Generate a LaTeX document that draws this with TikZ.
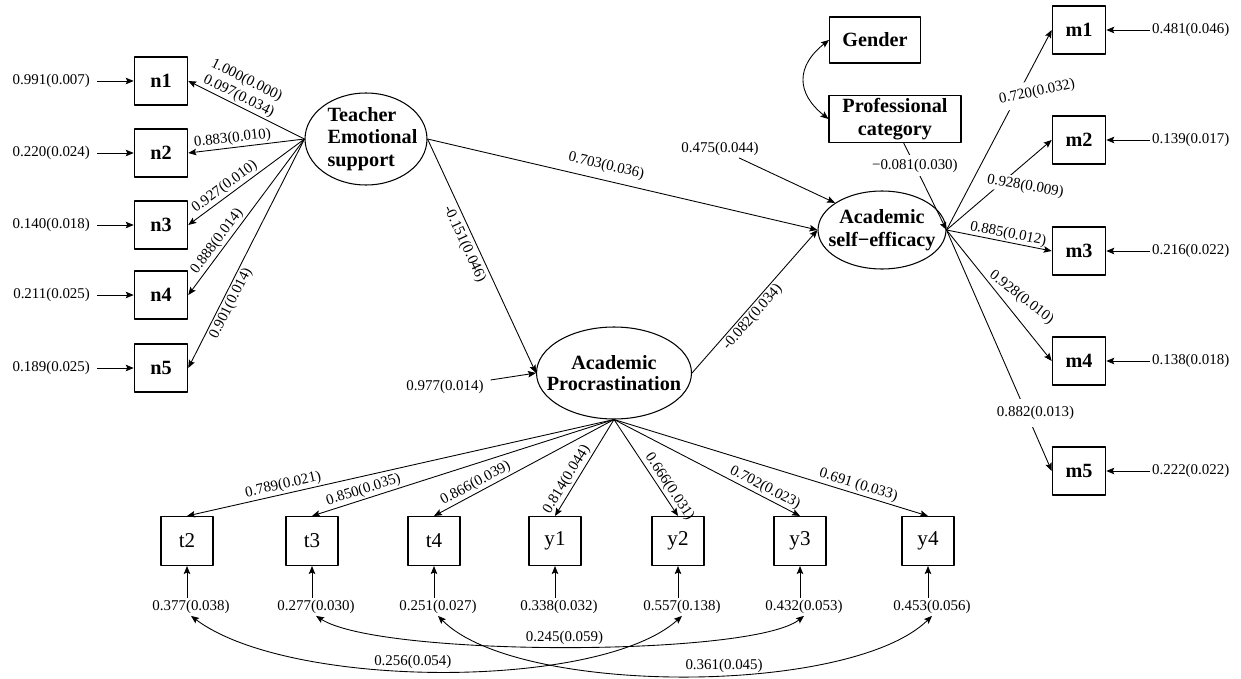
\documentclass[tikz,border=0pt]{standalone}
\usepackage{fontspec}
\setmainfont{Liberation Serif}
\usetikzlibrary{arrows.meta,shapes.geometric}
\tikzset{
	obs/.style={draw, line width=0.6pt, minimum width=1.07cm, minimum height=0.96cm, inner sep=0pt, font=\fontsize{11.5}{13}\selectfont\bfseries},
	ind/.style={draw, line width=0.6pt, minimum width=1.04cm, minimum height=0.98cm, inner sep=0pt, font=\fontsize{12}{14}\selectfont},
	lat/.style={draw, ellipse, line width=0.6pt, inner sep=0pt},
	bold/.style={align=center, inner sep=0pt, font=\fontsize{11.5}{13}\selectfont\bfseries},
	est/.style={inner sep=1pt, font=\fontsize{8.5}{10}\selectfont},
	load/.style={->, line width=0.5pt},
}
\begin{document}
\begin{tikzpicture}[x=0.02cm, y=-0.02cm, line join=round, >={Stealth[length=1.6mm, width=1.3mm, inset=0.3mm]}]
	\useasboundingbox (0,0) rectangle (1241,679);
	
	\node[lat, minimum width=2.44cm, minimum height=1.84cm, label={[bold, align=left, xshift=1.3mm]center:Teacher\\Emotional\\support}] (TES) at (366,139) {};
	\node[lat, minimum width=3.1cm, minimum height=1.84cm, label={[bold, font=\fontsize{11.5}{11.5}\selectfont\bfseries]center:Academic\\Procrastination}] (AP) at (614,373) {};
	\node[lat, minimum width=2.56cm, minimum height=1.56cm, label={[bold]center:Academic\\self−efficacy}] (ASE) at (882,230) {};
	\node[obs, minimum width=1.82cm, minimum height=0.92cm] (gen) at (875,40) {Gender};
	\node[obs, minimum width=2.64cm, minimum height=0.94cm, align=center] (pro) at (895,119) {Professional\\category};
	
	\foreach \i/\y/\e in {1/81/0.991(0.007), 2/153/0.220(0.024), 3/225/0.140(0.018), 4/295/0.211(0.025), 5/368/0.189(0.025)}{
		\node[obs] (n\i) at (161,\y) {n\i};
		\node[est, anchor=east] (en\i) at (92,\y) {\e};
		\draw[load, shorten <=1mm] (en\i) -- (n\i);
	}
	\foreach \i/\y/\e in {1/30/0.481(0.046), 2/140/0.139(0.017), 3/251/0.216(0.022), 4/361/0.138(0.018), 5/471/0.222(0.022)}{
		\node[obs] (m\i) at (1079,\y) {m\i};
		\node[est, anchor=west] (em\i) at (1150,\y) {\e};
		\draw[load] (em\i) -- (m\i);
	}
	\foreach \s/\x/\e/\l/\p in {t2/187/0.377(0.038)/0.789(0.021)/0.77, t3/312/0.277(0.030)/0.850(0.035)/0.82, t4/434/0.251(0.027)/0.866(0.039)/0.745, y1/555/0.338(0.032)/0.814(0.044)/0.67, y2/678/0.557(0.138)/0.666(0.031)/0.75, y3/800/0.432(0.053)/0.702(0.023)/0.79, y4/928/0.453(0.056)/0.691 (0.033)/0.77}{
		\node[ind] (\s) at (\x,541) {\s};
		\node[est] (e\s) at (\x+4,607) {\e};
		\draw[load] (e\s.north -| \s) -- (\s);
		\draw[load] (AP.south) -- (\s.north) node[est, pos=\p, sloped, above] {\l};
	}
	
	\draw[load] (TES.west) -- (n1.east) node[est, pos=0.6, sloped, above, align=center] {1.000(0.000)\\0.097(0.034)};
	\draw[load] (TES.west) -- (n2.east) node[est, pos=0.61, sloped, above] {0.883(0.010)};
	\draw[load] (TES.west) -- (n3.east) node[est, pos=0.64, sloped, above] {0.927(0.010)};
	\draw[load] (TES.west) -- (n4.east) node[est, pos=0.69, sloped, above] {0.888(0.014)};
	\draw[load] (TES.west) -- (n5.east) node[est, pos=0.7, sloped, below] {0.901(0.014)};
	
	\draw[load] (ASE.east) -- (m1.west) node[est, pos=0.69, fill=white, inner ysep=3pt, xshift=3.6mm, rotate=12] {0.720(0.032)};
	\draw[load] (ASE.east) -- (m2.west) node[est, pos=0.64, fill=white, xshift=2.3mm, yshift=-2.8mm, rotate=-10] {0.928(0.009)};
	\draw[load] (ASE.east) -- (m3.west) node[est, pos=0.57, sloped, above, inner sep=0.5pt] {0.885(0.012)};
	\draw[load] (ASE.east) -- (m4.west) node[est, pos=0.55, xshift=3.4mm, yshift=0.9mm, rotate=-38] {0.928(0.010)};
	\draw[load] (ASE.east) -- (m5.west) node[est, pos=0.76, fill=white, inner ysep=4pt, xshift=1.8mm] {0.882(0.013)};
	
	\draw[load] (TES.east) -- (ASE.west) node[est, pos=0.45, sloped, above=3pt] {0.703(0.036)};
	\draw[load] (TES.east) -- (AP.west) node[est, pos=0.43, sloped, below=1pt] {-0.151(0.046)};
	\draw[load] (AP.east) -- (ASE.west) node[est, pos=0.43, sloped, below] {-0.082(0.034)};
	\draw[load] (pro.290) -- (ASE.east) node[est, pos=0.26, fill=white, inner ysep=2pt] {−0.081(0.030)};
	\draw[load, <->] (gen.west) .. controls (796,66) and (796,93) .. (pro.west);
	
	\node[est] (e475) at (720,149) {0.475(0.044)};
	\draw[load] (e475) -- (ASE.150);
	\node[est] (e977) at (445,387) {0.977(0.014)};
	\draw[load, shorten <=1mm] (e977) -- (AP.west);
	
	\draw[load, <->] (et2.south) .. controls (290,690) and (600,690) .. (ey2.south) node[est, pos=0.45, above] {0.256(0.054)};
	\draw[load, <->] (et3.south) .. controls (380,657) and (752,657) .. (ey3.south) node[est, pos=0.5, above] {0.245(0.059)};
	\draw[load, <->] (et4.south) .. controls (517,696) and (850,696) .. (ey4.south) node[est, pos=0.565, above] {0.361(0.045)};
\end{tikzpicture}
\end{document}
